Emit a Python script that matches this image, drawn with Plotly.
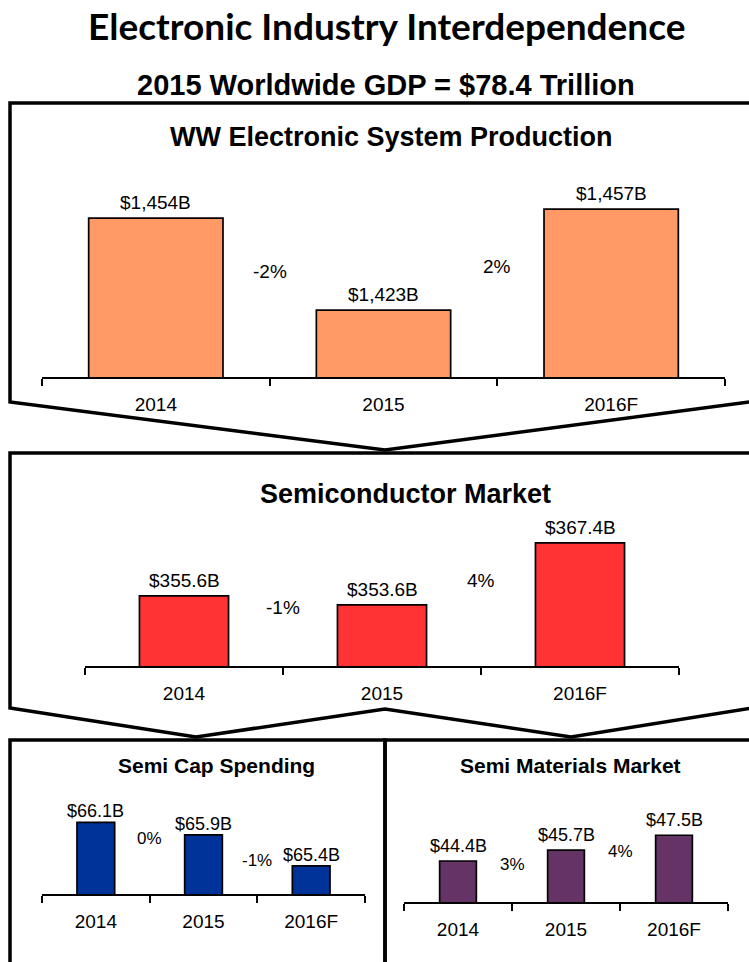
import plotly.graph_objects as go

W, H = 749, 962

# ---------------- data ----------------
categories = ["2014", "2015", "2016F"]

esp_values = [1454, 1423, 1457]
esp_growth = ["-2%", "2%"]

semi_values = [355.6, 353.6, 367.4]
semi_growth = ["-1%", "4%"]

cap_values = [66.1, 65.9, 65.4]
cap_growth = ["0%", "-1%"]

mat_values = [44.4, 45.7, 47.5]
mat_growth = ["3%", "4%"]


def px(x):
    return x / W


def py(y):
    return 1 - y / H


panels = [
    dict(n="", values=esp_values, growth=esp_growth, color="#FF9966",
         fmt=lambda v: f"${v:,.0f}B", x0=42, x1=725, base=377, top=170,
         ymin=1400.5, scale=2.97, width=0.59, vfont=19, gfont=19, tfont=19,
         vshift=3, gshift=-7),
    dict(n="2", values=semi_values, growth=semi_growth, color="#FF3333",
         fmt=lambda v: f"${v:.1f}B", x0=85, x1=679, base=666, top=515,
         ymin=340.0, scale=4.49, width=0.45, vfont=19, gfont=19, tfont=19,
         vshift=3, gshift=-7),
    dict(n="3", values=cap_values, growth=cap_growth, color="#003399",
         fmt=lambda v: f"${v:.1f}B", x0=42, x1=365, base=894, top=785,
         ymin=64.95, scale=62.3, width=0.35, vfont=18, gfont=17, tfont=19,
         vshift=-1, gshift=-10),
    dict(n="4", values=mat_values, growth=mat_growth, color="#663366",
         fmt=lambda v: f"${v:.1f}B", x0=404, x1=728, base=902, top=785,
         ymin=39.46, scale=8.3, width=0.34, vfont=18, gfont=17, tfont=19,
         vshift=3, gshift=-9),
]

FONT = "Liberation Sans, Arial, sans-serif"

fig = go.Figure()
annotations = []
layout_axes = {}

for p in panels:
    xa = "x" + p["n"]
    ya = "y" + p["n"]
    fig.add_trace(go.Bar(
        x=categories, y=p["values"], xaxis=xa, yaxis=ya,
        marker=dict(color=p["color"], line=dict(color="black", width=1.7)),
        width=p["width"], showlegend=False, hoverinfo="skip",
    ))
    ymax = p["ymin"] + (p["base"] - p["top"]) / p["scale"]
    layout_axes["xaxis" + p["n"]] = dict(
        domain=[px(p["x0"]), px(p["x1"])], anchor=ya,
        type="category", categoryorder="array", categoryarray=categories,
        range=[-0.5, 2.5], showline=True, linecolor="black", linewidth=1.5,
        ticks="outside", tickson="boundaries", ticklen=7, tickwidth=1.5,
        tickcolor="black", showgrid=False, zeroline=False,
        ticklabelstandoff=9,
        tickfont=dict(family=FONT, size=p["tfont"], color="black"),
        fixedrange=True,
    )
    layout_axes["yaxis" + p["n"]] = dict(
        domain=[py(p["base"]), py(p["top"])], anchor=xa,
        range=[p["ymin"], ymax], visible=False, fixedrange=True,
    )
    for i, v in enumerate(p["values"]):
        annotations.append(dict(
            x=i, y=v, xref=xa, yref=ya, text=p["fmt"](v), showarrow=False,
            yanchor="bottom", yshift=p["vshift"],
            font=dict(family=FONT, size=p["vfont"], color="black"),
        ))
    for i, g in enumerate(p["growth"]):
        annotations.append(dict(
            x=i + 0.5, y=(p["values"][i] + p["values"][i + 1]) / 2,
            xref=xa, yref=ya, text=g, showarrow=False, yanchor="middle",
            yshift=p["gshift"],
            font=dict(family=FONT, size=p["gfont"], color="black"),
        ))

# titles
titles = [
    ("Electronic Industry Interdependence", 386, 26, 37, "Lato, sans-serif"),
    ("2015 Worldwide GDP = $78.4 Trillion", 386, 85, 29, FONT),
    ("WW Electronic System Production", 391, 137, 27, FONT),
    ("Semiconductor Market", 405, 494, 27, FONT),
    ("Semi Cap Spending", 216, 765, 21, FONT),
    ("Semi Materials Market", 570, 765, 21, FONT),
]
for t, x, y, s, f in titles:
    annotations.append(dict(
        x=px(x), y=py(y), xref="paper", yref="paper", text=f"<b>{t}</b>",
        showarrow=False, xanchor="center", yanchor="middle",
        font=dict(family=f, size=s, color="black"),
    ))


def path(points, close=True):
    s = "M " + " L ".join(f"{px(a)},{py(b)}" for a, b in points)
    return s + (" Z" if close else "")


LW = 3.5
shapes = [
    dict(type="path", xref="paper", yref="paper",
         path=path([(10, 103), (765, 103), (765, 400), (385, 450), (10, 402)]),
         line=dict(color="black", width=LW)),
    dict(type="path", xref="paper", yref="paper",
         path=path([(10, 453), (765, 453), (765, 706), (571, 737), (385, 709),
                    (196, 737), (10, 708)]),
         line=dict(color="black", width=LW)),
    dict(type="path", xref="paper", yref="paper",
         path=path([(10, 740), (385, 740), (385, 975), (10, 975)]),
         line=dict(color="black", width=LW)),
    dict(type="path", xref="paper", yref="paper",
         path=path([(385, 740), (765, 740), (765, 975), (385, 975)]),
         line=dict(color="black", width=LW)),
]

fig.update_layout(
    width=W, height=H, margin=dict(l=0, r=0, t=0, b=0),
    paper_bgcolor="white", plot_bgcolor="rgba(0,0,0,0)",
    annotations=annotations, shapes=shapes, showlegend=False,
    **layout_axes,
)

fig.write_html("out.html")
